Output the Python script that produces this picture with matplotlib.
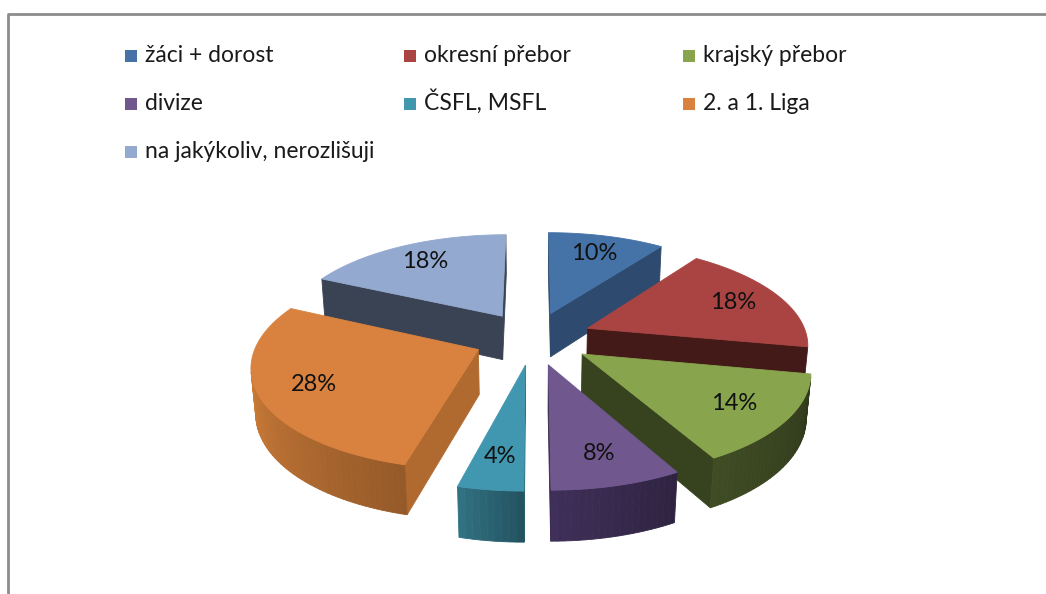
import numpy as np
import matplotlib.pyplot as plt
import matplotlib.colors as mcolors
from matplotlib.patches import Polygon, Rectangle

# data
categories = ['žáci + dorost', 'okresní přebor', 'krajský přebor', 'divize',
              'ČSFL, MSFL', '2. a 1. Liga', 'na jakýkoliv, nerozlišuji']
shares = [10, 18, 14, 8, 4, 28, 18]
labels = ['%d%%' % v for v in shares]

top_colors = ['#4673A7', '#A94442', '#88A54D', '#70588F', '#4197AF', '#D9823F', '#94A9D0']
side_colors = ['#2E4B6F', '#441A19', '#37421F', '#37294D', '#2A6271', '#B06A30', '#3A4353']

plt.rcParams['font.family'] = ['Lato', 'DejaVu Sans']

W, H = 1046, 594
fig = plt.figure(figsize=(W / 100, H / 100), dpi=100)
ax = fig.add_axes([0, 0, 1, 1])
ax.set_xlim(0, W)
ax.set_ylim(H, 0)
ax.axis('off')

# chart border (top and left visible)
ax.plot([8, 8, W], [H, 14, 14], color='#8c8c8c', lw=2, solid_capstyle='butt')

# ---- 3D pie geometry (unit radius, perspective view) ----
R = 1.0        # radius
E = 0.27       # explosion
T = 0.23       # thickness
elev = np.radians(26.7)
D = 6.25       # camera distance
K = 220.0      # px per unit
CX, CY = 533, 338
LAB_R = 0.76

cam = np.array([0.0, -D * np.cos(elev), D * np.sin(elev)])


def proj(x, y, z):
    x, y, z = np.broadcast_arrays(np.asarray(x, float), np.asarray(y, float), np.asarray(z, float))
    yc = y * np.sin(elev) + z * np.cos(elev)
    d = y * np.cos(elev) - z * np.sin(elev)
    s = D / (D + d)
    return np.c_[CX + K * x * s, CY - K * yc * s]


def visible(p, n):
    return np.dot(cam - p, n) > 0


def shade(c, f):
    return np.clip(np.array(mcolors.to_rgb(c)) * f, 0, 1)


fr = np.array(shares, float) / sum(shares)
edges = np.concatenate([[0], np.cumsum(fr)]) * 360

slices = []
for i in range(len(shares)):
    t1, t2 = np.radians(edges[i]), np.radians(edges[i + 1])
    m = 0.5 * (t1 + t2)
    ox, oy = E * np.sin(m), E * np.cos(m)
    faces = []
    # radial walls
    for t, n in ((t1, np.array([-np.cos(t1), np.sin(t1), 0])),
                 (t2, np.array([np.cos(t2), -np.sin(t2), 0]))):
        rx, ry = ox + R * np.sin(t), oy + R * np.cos(t)
        if visible(np.array([ox, oy, -T / 2]), n):
            pts = proj([ox, rx, rx, ox], [oy, ry, ry, oy], [0, 0, -T, -T])
            faces.append((pts, side_colors[i]))
    # outer wall
    nseg = max(4, int(np.degrees(t2 - t1) / 1.5))
    ts = np.linspace(t1, t2, nseg + 1)
    segs = []
    for a, b in zip(ts[:-1], ts[1:]):
        tm = 0.5 * (a + b)
        n = np.array([np.sin(tm), np.cos(tm), 0])
        p = np.array([ox + R * np.sin(tm), oy + R * np.cos(tm), -T / 2])
        if visible(p, n):
            xs = [ox + R * np.sin(a), ox + R * np.sin(b)]
            ys = [oy + R * np.cos(a), oy + R * np.cos(b)]
            segs.append(proj([xs[0], xs[1], xs[1], xs[0]], [ys[0], ys[1], ys[1], ys[0]],
                             [0, 0, -T, -T]))
    for j, pts in enumerate(segs):
        u = j / max(1, len(segs) - 1)
        faces.append((pts, shade(side_colors[i], 0.85 + 0.3 * u)))
    # top face
    tt = np.linspace(t1, t2, nseg * 2 + 1)
    top = proj(np.r_[ox, ox + R * np.sin(tt)], np.r_[oy, oy + R * np.cos(tt)], 0)
    faces.append((top, top_colors[i]))
    depth = (oy + 0.5 * np.cos(m)) * np.cos(elev)
    lab = proj(ox + LAB_R * np.sin(m), oy + LAB_R * np.cos(m), 0)[0]
    slices.append((depth, faces, lab, i))

for depth, faces, lab, i in sorted(slices, key=lambda s: -s[0]):
    for pts, col in faces:
        ax.add_patch(Polygon(pts, closed=True, facecolor=col, edgecolor=col, lw=0.6))
    ax.text(lab[0], lab[1], labels[i], ha='center', va='center', fontsize=17, color='#111111')

# ---- legend ----
col_x = [125, 404, 683]
row_y = [56, 104, 152]
for i, name in enumerate(categories):
    x0, y0 = col_x[i % 3], row_y[i // 3]
    ax.add_patch(Rectangle((x0, y0 - 6), 12, 12, facecolor=top_colors[i], edgecolor='none'))
    ax.text(x0 + 20, y0 + 6, name, ha='left', va='baseline', fontsize=16.5, color='#1a1a1a')

fig.savefig('out.png', dpi=100)
